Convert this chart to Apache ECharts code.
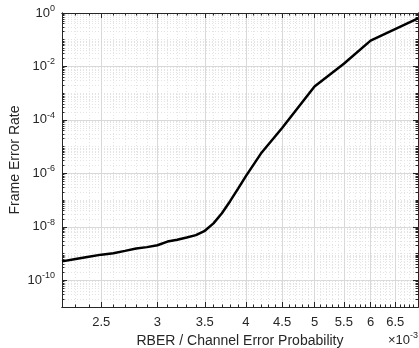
<!DOCTYPE html>
<html><head><meta charset="utf-8">
<script src="https://cdn.jsdelivr.net/npm/echarts@6/dist/echarts.min.js"></script>
<style>html,body{margin:0;padding:0;background:#fff}#c{width:419px;height:348px}</style>
</head><body><div id="c"></div>
<script>
// RBER (x 10^-3) and frame error rate
const rber = [2.2, 2.3, 2.4, 2.5, 2.6, 2.7, 2.8, 2.9, 3.0, 3.1, 3.2, 3.3, 3.4, 3.5, 3.6, 3.7, 3.8, 3.9, 4.0, 4.2, 4.5, 5.0, 5.5, 6.0, 7.0];
const fer  = [5.1e-10, 6.3e-10, 7.6e-10, 9.1e-10, 1.02e-9, 1.26e-9, 1.55e-9, 1.74e-9, 2.04e-9, 2.8e-9, 3.3e-9, 4.0e-9, 4.9e-9, 7.1e-9, 1.35e-8, 3.2e-8, 9.1e-8, 2.7e-7, 7.9e-7, 5.5e-6, 5.0e-5, 1.78e-3, 1.26e-2, 9.3e-2, 6.3e-1];
const xTicks = [2.5, 3, 3.5, 4, 4.5, 5, 5.5, 6, 6.5];
const yTicks = [1e-10, 1e-8, 1e-6, 1e-4, 1e-2, 1];
const xRange = [2.2, 7];
const yRange = [1e-11, 1];

const xMinor = [];
for (let i = 22; i <= 70; i++) { const v = i / 10; if (xTicks.indexOf(v) < 0) xMinor.push(v); }
const yMinor = [];
for (let k = -11; k <= -1; k++) for (let m = 1; m <= 9; m++) {
  const v = Number((m * Math.pow(10, k)).toPrecision(3));
  if (!(m === 1 && k % 2 === 0)) yMinor.push(v);
}
const ink = '#262626';
const font = 'Liberation Sans, Arial, sans-serif';
const majorGrid = {show: true, lineStyle: {color: '#d9d9d9', width: 1, type: 'solid'}};
const minorGrid = {show: true, lineStyle: {color: '#e4e4e4', width: 1, type: [1, 2]}};
const noLine = {show: false};
function xa(pos, vals, grid, tickLen, withLabel) {
  return {
    type: 'log', logBase: 10, min: xRange[0], max: xRange[1], position: pos,
    axisLine: {show: true, onZero: false, lineStyle: {color: ink, width: 1}},
    axisTick: {show: true, inside: true, length: tickLen, customValues: vals, lineStyle: {color: ink}},
    axisLabel: withLabel ? {show: true, customValues: vals, color: ink, fontSize: 13, fontFamily: font, margin: 9,
      formatter: v => String(Number(v.toPrecision(3)))} : {show: false},
    splitLine: grid || noLine, minorTick: {show: false}, minorSplitLine: {show: false}
  };
}
function ya(pos, vals, grid, tickLen, withLabel) {
  return {
    type: 'log', logBase: 10, min: yRange[0], max: yRange[1], position: pos,
    axisLine: {show: true, onZero: false, lineStyle: {color: ink, width: 1}},
    axisTick: {show: true, inside: true, length: tickLen, customValues: vals, lineStyle: {color: ink}},
    axisLabel: withLabel ? {show: true, customValues: vals, color: ink, fontSize: 13, fontFamily: font, margin: 7,
      formatter: v => '{b|10}{s|' + Math.round(Math.log10(v)) + '}',
      rich: {b: {fontSize: 13, fontFamily: font, color: ink}, s: {fontSize: 9, fontFamily: font, color: ink, padding: [0, 0, 9, 0]}}} : {show: false},
    splitLine: grid || noLine, minorTick: {show: false}, minorSplitLine: {show: false}
  };
}
const xAxes = [xa('bottom', xTicks, majorGrid, 5, true), xa('bottom', xMinor, minorGrid, 2.5, false), xa('top', xTicks, null, 5, false), xa('top', xMinor, null, 2.5, false)];
xAxes[0].name = 'RBER / Channel Error Probability';
xAxes[0].nameLocation = 'middle'; xAxes[0].nameGap = 26;
xAxes[0].nameTextStyle = {color: ink, fontSize: 14, fontFamily: font};
const yAxes = [ya('left', yTicks, majorGrid, 5, true), ya('left', yMinor, minorGrid, 2.5, false), ya('right', yTicks, null, 5, false), ya('right', yMinor, null, 2.5, false)];
yAxes[0].name = 'Frame Error Rate';
yAxes[0].nameLocation = 'middle'; yAxes[0].nameGap = 40; yAxes[0].nameMoveOverlap = false;
yAxes[0].nameTextStyle = {color: ink, fontSize: 14, fontFamily: font};

const chart = echarts.init(document.getElementById('c'), null, {renderer: 'canvas'});
chart.setOption({
  animation: false,
  backgroundColor: '#fff',
  grid: {left: 62, top: 13, right: 1, bottom: 41, containLabel: false, outerBoundsMode: 'none'},
  xAxis: xAxes,
  yAxis: yAxes,
  graphic: [{type: 'text', right: 1, bottom: 1, style: {
    text: '{a|\u00d710}{s|-3}', fill: ink,
    rich: {a: {fontSize: 13, fontFamily: font, fill: ink}, s: {fontSize: 9, fontFamily: font, fill: ink, padding: [0, 0, 9, 0]}}}}],
  series: [{type: 'line', xAxisIndex: 0, yAxisIndex: 0, data: rber.map((x, i) => [x, fer[i]]),
    showSymbol: false, symbol: 'none', lineStyle: {color: '#000', width: 2.5}, z: 10}]
});
</script></body></html>
